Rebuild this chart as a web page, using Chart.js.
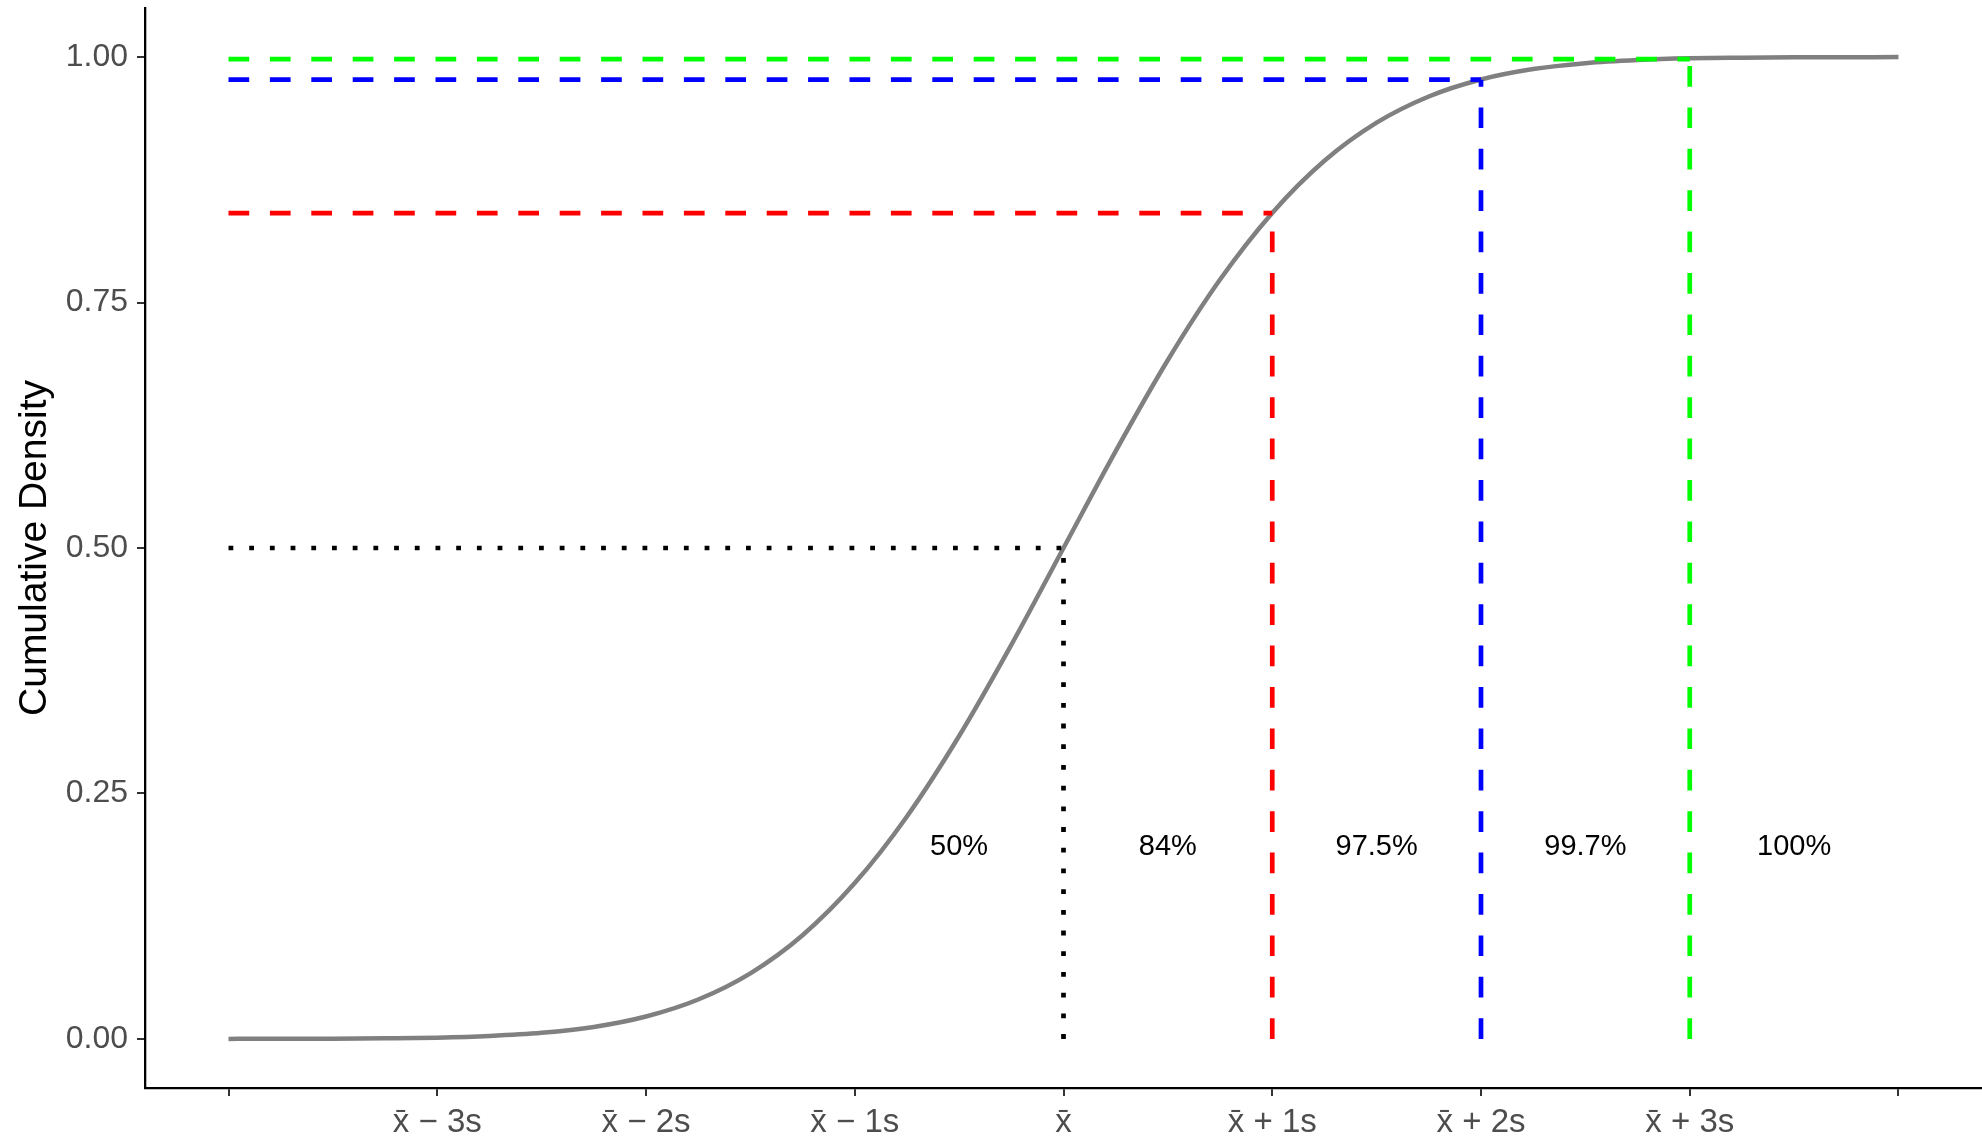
<!DOCTYPE html>
<html>
<head>
<meta charset="utf-8">
<title>Cumulative Density</title>
<script src="https://cdn.jsdelivr.net/npm/chart.js@4/dist/chart.umd.min.js"></script>
<style>
  html, body { margin: 0; padding: 0; background: #ffffff; }
  #wrap { width: 1982px; height: 1139px; }
  canvas { display: block; }
</style>
</head>
<body>
<div id="wrap"><canvas id="cdf" width="1982" height="1139"></canvas></div>
<script>
// Normal cumulative curve, sampled every quarter standard deviation
const curveX = [-4, -3.75, -3.5, -3.25, -3, -2.75, -2.5, -2.25, -2, -1.75, -1.5, -1.25, -1,
                -0.75, -0.5, -0.25, 0, 0.25, 0.5, 0.75, 1, 1.25, 1.5, 1.75, 2, 2.25, 2.5,
                2.75, 3, 3.25, 3.5, 3.75, 4];
const curveY = [0.00003, 0.0001, 0.0002, 0.0006, 0.0013, 0.0030, 0.0062, 0.0122, 0.0228,
                0.0401, 0.0668, 0.1056, 0.1587, 0.2266, 0.3085, 0.4013, 0.5000, 0.5987,
                0.6915, 0.7734, 0.8413, 0.8944, 0.9332, 0.9599, 0.9772, 0.9878, 0.9938,
                0.9970, 0.9987, 0.9994, 0.9998, 0.9999, 1.0000];

// Cut points (in standard deviations from the mean) and the cumulative share reached there
const cutX = [0, 1, 2, 3];
const cutY = [0.500, 0.841, 0.977, 0.998];

// Share labels placed between the cut points
const shareLabels = ['50%', '84%', '97.5%', '99.7%', '100%'];
const shareLabelX = [-0.5, 0.5, 1.5, 2.5, 3.5];
const shareLabelY = 0.198;

// Axis ticks
const xTickValues = [-4, -3, -2, -1, 0, 1, 2, 3, 4];
const xTickLabels = ['', 'x\u0304 \u2212 3s', 'x\u0304 \u2212 2s', 'x\u0304 \u2212 1s', 'x\u0304',
                     'x\u0304 + 1s', 'x\u0304 + 2s', 'x\u0304 + 3s', ''];
const yTickValues = [0, 0.25, 0.5, 0.75, 1];
const yTickLabels = ['0.00', '0.25', '0.50', '0.75', '1.00'];

// Styles
const cutColors = ['#000000', '#ff0000', '#0000ff', '#00ff00'];
const dashedPattern = [20.7, 20.7];
const dottedPattern = [4.8, 15.9];
const FONT = '"Liberation Sans", Arial, sans-serif';
const LABEL_SIZE = 29;

const datasets = [{
  label: 'curve',
  data: curveX.map((x, i) => ({ x: x, y: curveY[i] })),
  borderColor: '#808080',
  borderWidth: 4.5,
  pointRadius: 0,
  cubicInterpolationMode: 'monotone',
  order: 10
}];

cutX.forEach((cx, i) => {
  const dash = i === 0 ? dottedPattern : dashedPattern;
  // horizontal guide from the left end of the curve to the cut point
  datasets.push({
    label: 'h' + i,
    data: [{ x: curveX[0], y: cutY[i] }, { x: cx, y: cutY[i] }],
    borderColor: cutColors[i],
    borderWidth: 4.7,
    borderDash: dash,
    pointRadius: 0,
    order: 1
  });
  // vertical guide from zero up to the cut point
  datasets.push({
    label: 'v' + i,
    data: [{ x: cx, y: 0 }, { x: cx, y: cutY[i] }],
    borderColor: cutColors[i],
    borderWidth: 4.7,
    borderDash: dash,
    pointRadius: 0,
    order: 1
  });
});

// Draws the share labels with their digits centred on the data position
const shareLabelPlugin = {
  id: 'shareLabels',
  afterDatasetsDraw(chart) {
    const { ctx, scales } = chart;
    ctx.save();
    ctx.font = LABEL_SIZE + 'px ' + FONT;
    ctx.fillStyle = '#000000';
    ctx.textAlign = 'center';
    ctx.textBaseline = 'alphabetic';
    const half = LABEL_SIZE * 0.716 / 2;
    shareLabels.forEach((t, i) => {
      ctx.fillText(t, scales.x.getPixelForValue(shareLabelX[i]), scales.y.getPixelForValue(shareLabelY) + half);
    });
    ctx.restore();
  }
};

new Chart(document.getElementById('cdf'), {
  type: 'line',
  data: { datasets: datasets },
  plugins: [shareLabelPlugin],
  options: {
    responsive: false,
    animation: false,
    devicePixelRatio: 1,
    layout: { padding: { top: 8, right: 0, bottom: 0, left: 0 } },
    plugins: { legend: { display: false }, tooltip: { enabled: false } },
    scales: {
      x: {
        type: 'linear',
        min: -4.4,
        max: 4.4,
        afterBuildTicks(scale) { scale.ticks = xTickValues.map(v => ({ value: v })); },
        afterFit(scale) {
          scale.height = 51;
          scale.paddingLeft = 0; scale.paddingRight = 0;
        },
        grid: { drawOnChartArea: false, drawTicks: true, tickLength: 8, color: '#333333', lineWidth: 2 },
        border: { display: true, color: '#000000', width: 2.3 },
        ticks: {
          autoSkip: false,
          maxRotation: 0,
          padding: 7,
          color: '#4d4d4d',
          font: { family: FONT, size: 33 },
          callback(value) {
            const i = xTickValues.indexOf(value);
            return i >= 0 ? xTickLabels[i] : '';
          }
        }
      },
      y: {
        type: 'linear',
        min: -0.05,
        max: 1.05,
        afterBuildTicks(scale) { scale.ticks = yTickValues.map(v => ({ value: v })); },
        afterFit(scale) {
          scale.width = 145;
          scale.paddingTop = 0; scale.paddingBottom = 0;
        },
        grid: { drawOnChartArea: false, drawTicks: true, tickLength: 8, color: '#333333', lineWidth: 2 },
        border: { display: true, color: '#000000', width: 2.3 },
        title: {
          display: true,
          text: 'Cumulative Density',
          color: '#000000',
          font: { family: FONT, size: 39 },
          padding: { top: 12, bottom: 0 }
        },
        ticks: {
          autoSkip: false,
          padding: 9,
          color: '#4d4d4d',
          font: { family: FONT, size: 32 },
          callback(value) {
            const i = yTickValues.indexOf(value);
            return i >= 0 ? yTickLabels[i] : '';
          }
        }
      }
    }
  }
});
</script>
</body>
</html>
